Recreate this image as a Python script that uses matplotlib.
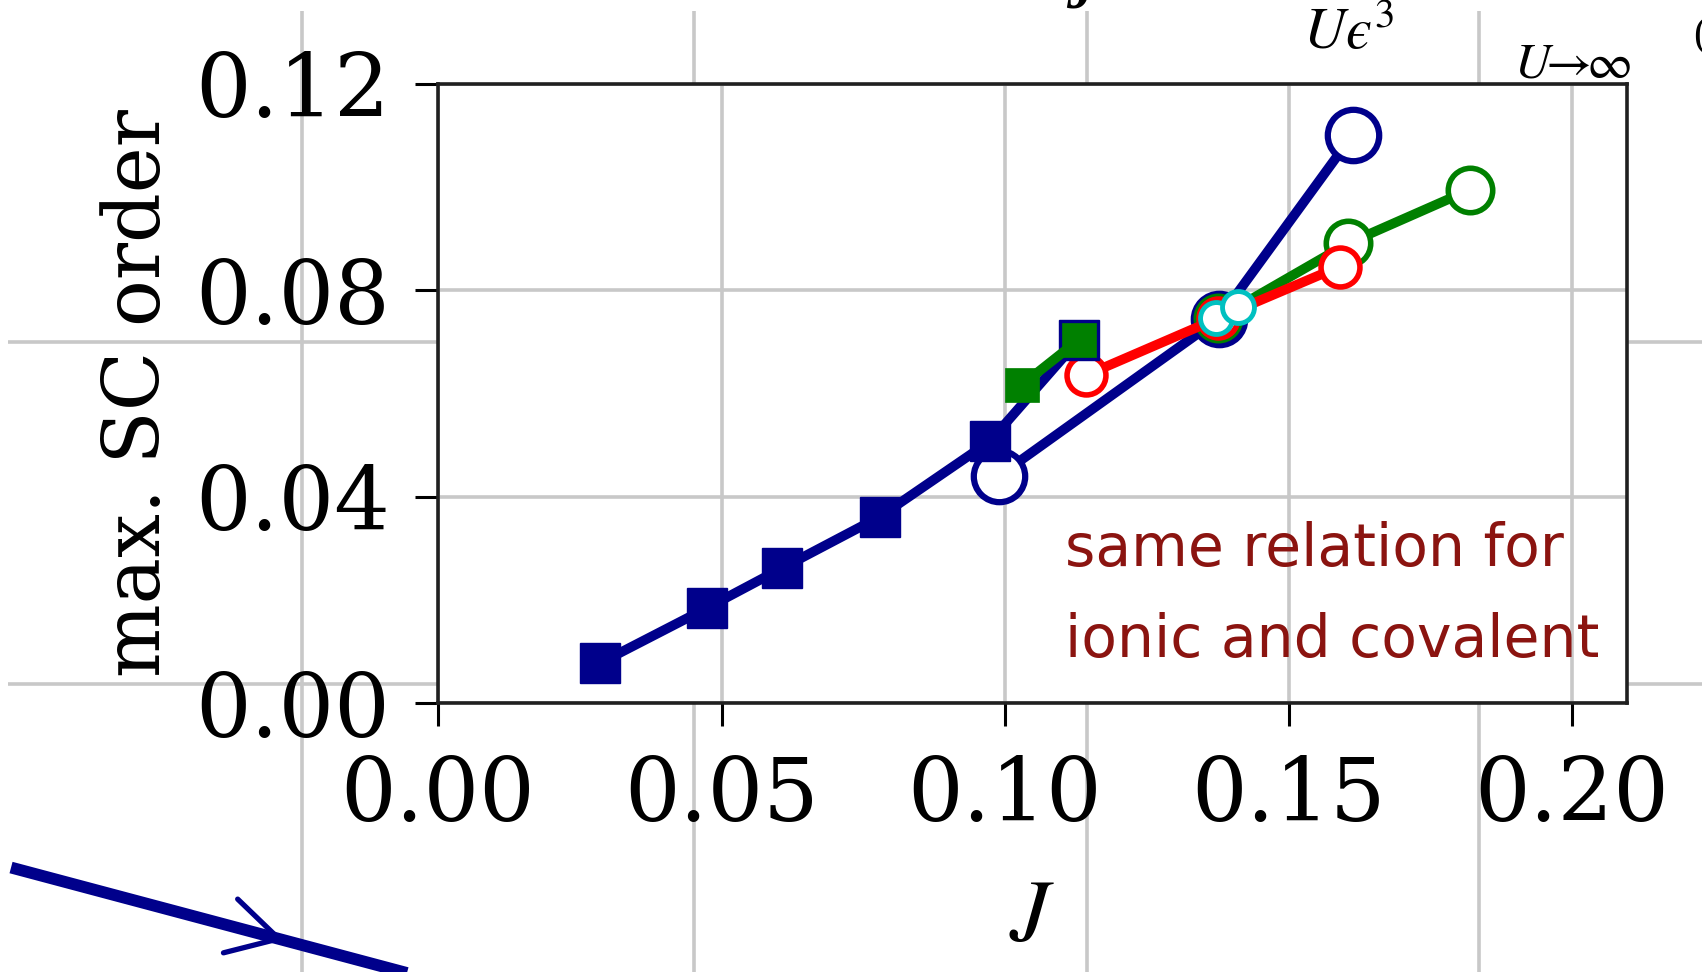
import matplotlib
matplotlib.use("Agg")
import matplotlib.pyplot as plt
from matplotlib.patches import FancyArrowPatch, ArrowStyle

plt.rcParams['mathtext.fontset'] = 'stix'

# ---- inset data: maximal SC order versus J ----
j_blue_sq = [0.0285, 0.0474, 0.0606, 0.0779, 0.0973, 0.1130]
sc_blue_sq = [0.0077, 0.0184, 0.0261, 0.0361, 0.0507, 0.0704]
j_green_sq = [0.1030, 0.1130]
sc_green_sq = [0.0617, 0.0704]
j_blue_o = [0.0989, 0.1377, 0.1613]
sc_blue_o = [0.0440, 0.0745, 0.1101]
j_green_o = [0.1376, 0.1605, 0.1820]
sc_green_o = [0.0746, 0.0891, 0.0995]
j_red_o = [0.1142, 0.1376, 0.1590]
sc_red_o = [0.0635, 0.0746, 0.0846]
j_cyan_o = [0.1372, 0.1411]
sc_cyan_o = [0.0746, 0.0768]

x_ticks = [0.00, 0.05, 0.10, 0.15, 0.20]
y_ticks = [0.00, 0.04, 0.08, 0.12]
note_text = "same relation for\nionic and covalent"

# ---- surrounding (parent) panel ----
bg_xgrid = [0.75, 1.75, 2.75, 3.75]
bg_ygrid = [1.0, 2.0]
arrow_x = [0.009, 1.30]
arrow_y = [0.465, 0.071]
arrow_tip = (0.705, 0.253)
arrow_tail = (0.55, 0.300)

NAVY = '#00008b'
GRID = '#c8c8c8'
SERIF = 'DejaVu Serif'

W, H = 1702, 972
fig = plt.figure(figsize=(W / 100, H / 100), dpi=100)

bg = fig.add_axes([7.5 / W, 0, 1 - 7.5 / W, 1 - 11 / H])
bg.set_xlim(0, 4.318)
bg.set_ylim(0.16, 2.966)
bg.set_xticks(bg_xgrid)
bg.set_yticks(bg_ygrid)
bg.grid(True, color=GRID, lw=2.6)
bg.tick_params(length=0, labelbottom=False, labelleft=False)
for s in bg.spines.values():
    s.set_visible(False)
bg.set_facecolor('none')

bg.plot(arrow_x, arrow_y, color=NAVY, lw=8.5, solid_capstyle='butt', zorder=3)
bg.add_patch(FancyArrowPatch(arrow_tail, arrow_tip,
                             arrowstyle=ArrowStyle('->', head_length=36, head_width=20),
                             mutation_scale=1, color=NAVY, lw=3.8,
                             shrinkA=0, shrinkB=0, zorder=3))

bg.text(3.301, 2.855, '$U\u03f5^3$', fontsize=42, ha='left', va='baseline')
bg.text(3.839, 2.771, r'$U\!\!\rightarrow\!\!\infty$', fontsize=36, ha='left', va='baseline')
bg.text(2.733, 2.975, 'J', fontsize=40, fontweight='bold', fontstyle='italic',
        family='Liberation Serif', ha='center', va='baseline')
bg.text(4.295, 2.893, '(c)', fontsize=30, family='Liberation Serif',
        ha='left', va='center')

# ---- inset axes ----
ax = fig.add_axes([438 / W, (H - 703) / H, (1627 - 438) / W, (703 - 84) / H])
ax.set_facecolor('white')
ax.set_xlim(0, 0.2097)
ax.set_ylim(0, 0.12)
ax.set_xticks(x_ticks)
ax.set_yticks(y_ticks)
ax.set_xticklabels([f'{v:.2f}' for v in x_ticks], family=SERIF, fontsize=63)
ax.set_yticklabels([f'{v:.2f}' for v in y_ticks], family=SERIF, fontsize=63)
ax.tick_params(axis='both', direction='out', length=16.5, width=2.2)
ax.tick_params(axis='x', pad=20)
ax.tick_params(axis='y', pad=18)
ax.grid(True, color=GRID, lw=2.6)
ax.set_axisbelow(True)
for s in ax.spines.values():
    s.set_linewidth(2.6)
    s.set_color('#202020')

ax.set_ylabel('max. SC order', family=SERIF, fontsize=56, labelpad=14)
ax.set_xlabel(r'$J$', fontsize=64, labelpad=24)

lw = 7
ax.plot(j_blue_o, sc_blue_o, '-o', color=NAVY, lw=lw, ms=37, mew=4.5, mfc='white', zorder=3)
ax.plot(j_green_o, sc_green_o, '-o', color='green', lw=lw, ms=32, mew=4, mfc='white', zorder=3)
ax.plot(j_red_o, sc_red_o, '-o', color='red', lw=lw, ms=28, mew=4, mfc='white', zorder=3)
ax.plot(j_cyan_o, sc_cyan_o, '-o', color='#00c0c0', lw=lw, ms=23, mew=3.5, mfc='white', zorder=3)
ax.plot(j_blue_sq, sc_blue_sq, '-s', color=NAVY, lw=lw, ms=29, mew=1, zorder=4)
ax.plot(j_green_sq, sc_green_sq, '-s', color='green', lw=lw, ms=24, mew=0.5, zorder=4)

ax.text(0.1105, 0.0089, note_text, family='DejaVu Sans', fontsize=42, color='#8b1410',
        ha='left', va='baseline', linespacing=1.75, zorder=5)

fig.savefig('out.png', dpi=100)
